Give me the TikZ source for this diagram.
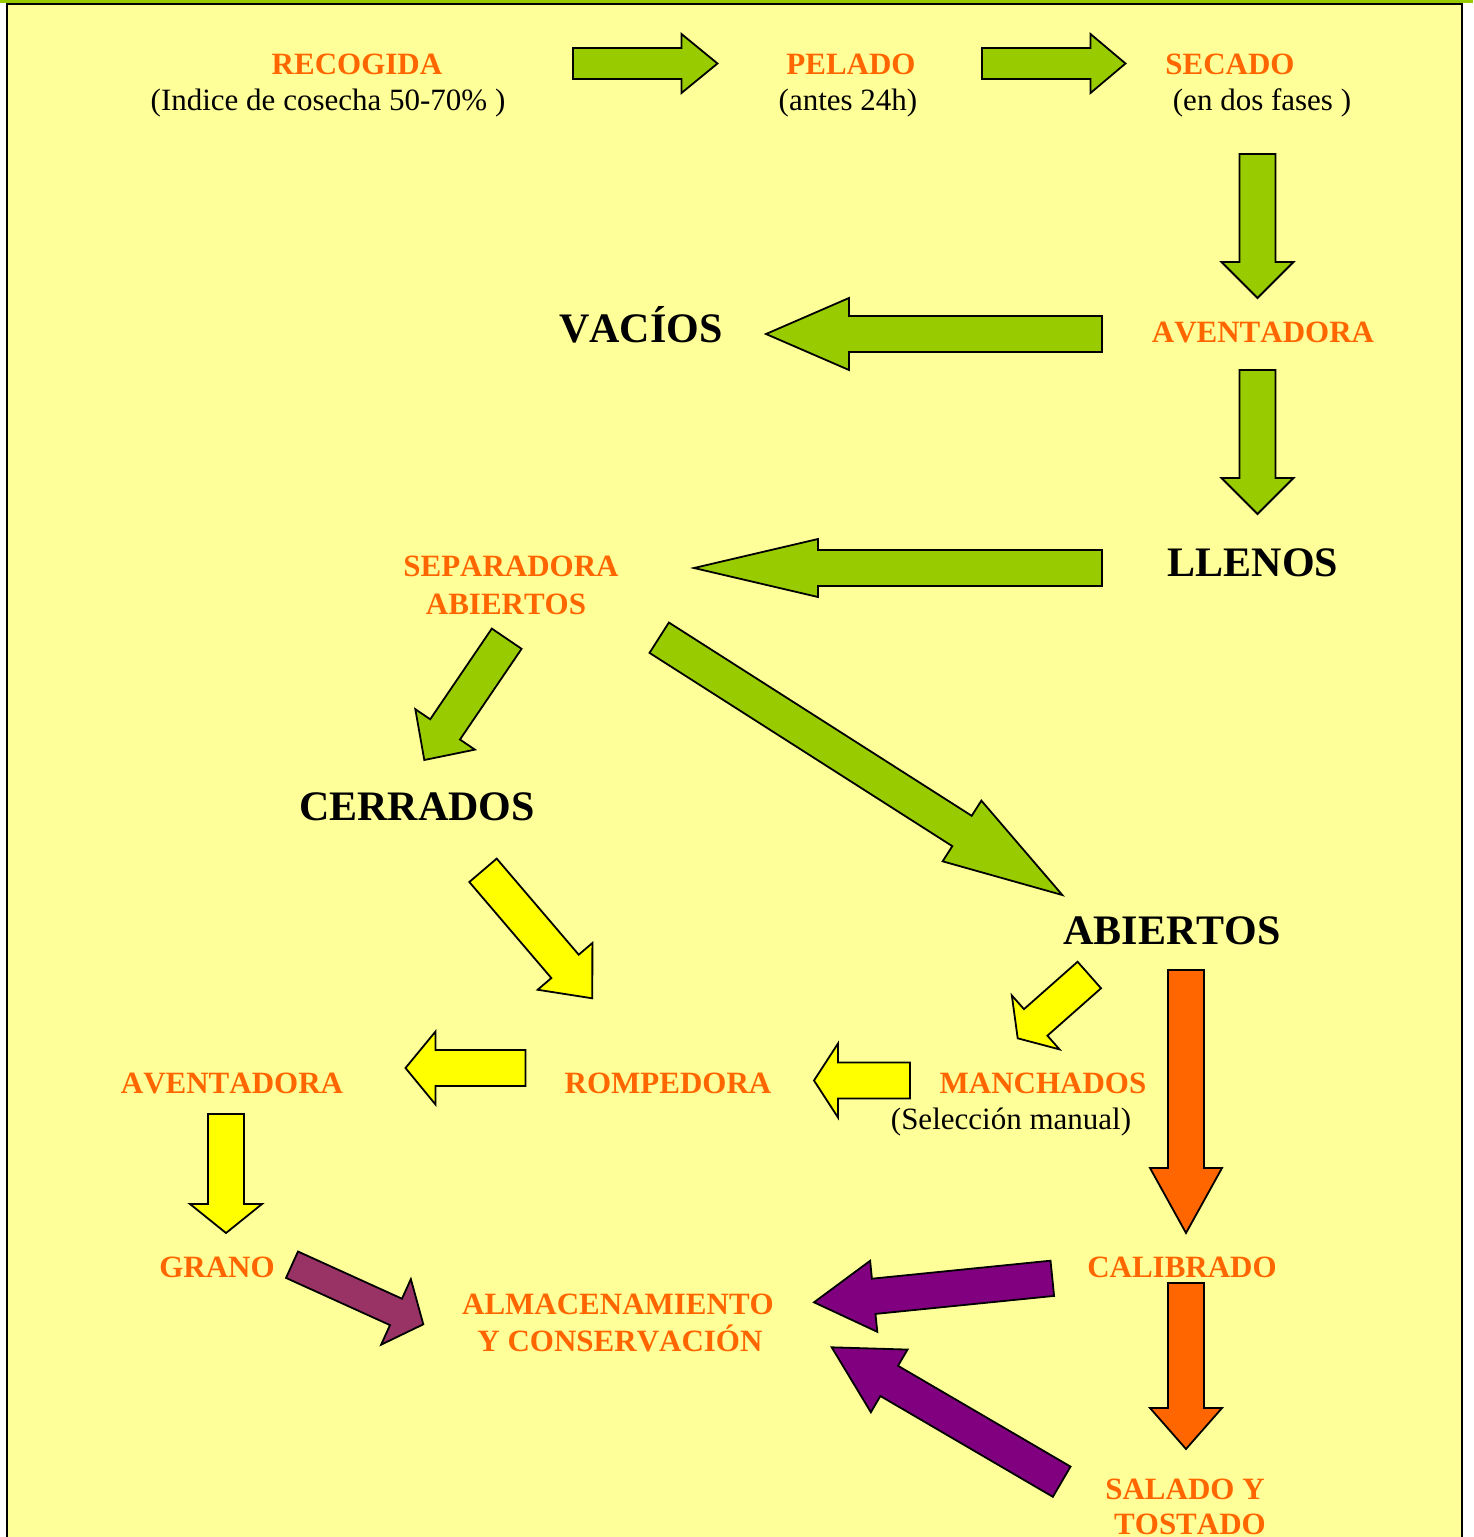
\documentclass[tikz,border=0pt]{standalone}
\usepackage{fontspec}
\setmainfont{Liberation Serif}[Kerning=Off]
\usetikzlibrary{calc}
\definecolor{bgyellow}{HTML}{FFFF99}
\definecolor{leafgreen}{HTML}{99CC00}
\definecolor{brightyellow}{HTML}{FFFF00}
\definecolor{orangetxt}{HTML}{FF6600}
\definecolor{darkpurple}{HTML}{800080}
\definecolor{plum}{HTML}{993366}
\tikzset{
  bkstyle/.style={draw=black,line width=1.8pt,line join=miter},
  orangelbl/.style={text=orangetxt,font=\fontsize{31}{37}\selectfont\bfseries,anchor=base,inner sep=0pt},
  blacklbl/.style={text=black,font=\fontsize{42}{50}\selectfont\bfseries,anchor=base,inner sep=0pt},
  sublbl/.style={text=black,font=\fontsize{31}{37}\selectfont,anchor=base,inner sep=0pt}
}
\newcommand\bkarrow[6]{%
  \coordinate (bkH) at ($(#3)!#6!(#2)$);
  \draw[bkstyle,fill=#1] ($(#2)!#4!90:(#3)$) -- ($(bkH)!#4!-90:(#2)$) -- ($(bkH)!#5!-90:(#2)$) -- (#3) -- ($(bkH)!#5!90:(#2)$) -- ($(bkH)!#4!90:(#2)$) -- ($(#2)!#4!-90:(#3)$) -- cycle;}
\begin{document}
\begin{tikzpicture}[x=1pt,y=-1pt]
\useasboundingbox (0,0) rectangle (1473,1537);
\fill[white] (0,0) rectangle (1473,1537);
\fill[bgyellow] (7,4) rectangle (1462,1537);
\fill[leafgreen] (0,0) rectangle (1473,2.5);
\draw[line width=2pt] (7,1540) -- (7,3.5) -- (1462,3.5) -- (1462,1540);

% labels
\node[orangelbl] (recogida) at (357,74) {RECOGIDA};
\node[sublbl] (recogidasub) at (328,110) {(Indice de cosecha 50-70\% )};
\node[orangelbl] (pelado) at (851,74) {PELADO};
\node[sublbl] (peladosub) at (848,110) {(antes 24h)};
\node[orangelbl] (secado) at (1230,74) {SECADO};
\node[sublbl] (secadosub) at (1262,110) {(en dos fases )};
\node[orangelbl] (avent1) at (1263,342) {AVENTADORA};
\node[blacklbl] (vacios) at (641,342) {VACÍOS};
\node[blacklbl] (llenos) at (1253,576) {LLENOS};
\node[orangelbl] (separadora) at (511,576) {SEPARADORA};
\node[orangelbl] (separadora2) at (506,614) {ABIERTOS};
\node[blacklbl] (cerrados) at (417,820) {CERRADOS};
\node[blacklbl] (abiertos) at (1172,944) {ABIERTOS};
\node[orangelbl] (avent2) at (232,1093) {AVENTADORA};
\node[orangelbl] (rompedora) at (668,1093) {ROMPEDORA};
\node[orangelbl] (manchados) at (1043,1093) {MANCHADOS};
\node[sublbl] (manchadossub) at (1011,1129) {(Selección manual)};
\node[orangelbl] (grano) at (217,1277) {GRANO};
\node[orangelbl] (almacen) at (618,1314) {ALMACENAMIENTO};
\node[orangelbl] (almacen2) at (620,1351) {Y CONSERVACIÓN};
\node[orangelbl] (calibrado) at (1182,1277) {CALIBRADO};
\node[orangelbl] (salado) at (1185,1499) {SALADO Y};
\node[orangelbl] (salado2) at (1190,1534) {TOSTADO};

% arrow end points
\coordinate (a1s) at (573,63.5);   \coordinate (a1e) at (717.5,63.5);
\coordinate (a2s) at (982,63.5);   \coordinate (a2e) at (1125.5,63.5);
\coordinate (a3s) at (1257.5,154); \coordinate (a3e) at (1257.5,298);
\coordinate (a4s) at (1257.5,370); \coordinate (a4e) at (1257.5,514);
\coordinate (a5s) at (1102,334);   \coordinate (a5e) at (766,334);
\coordinate (a6s) at (1102,568);   \coordinate (a6e) at (694,568);
\coordinate (a7s) at (506.7,638.7); \coordinate (a7e) at (424.3,760);
\coordinate (a8s) at (659.2,637.7); \coordinate (a8e) at (1062.3,895);
\coordinate (a9s) at (483,870.3);  \coordinate (a9e) at (592.3,998.3);
\coordinate (a10s) at (1089.3,975); \coordinate (a10e) at (1017.7,1038.3);
\coordinate (a11s) at (1186,970);  \coordinate (a11e) at (1186,1233);
\coordinate (a12s) at (1186,1283); \coordinate (a12e) at (1186,1449);
\coordinate (a13s) at (910,1080.5); \coordinate (a13e) at (814,1080.5);
\coordinate (a14s) at (525.5,1068); \coordinate (a14e) at (405.5,1068);
\coordinate (a15s) at (226,1114);  \coordinate (a15e) at (226,1233);
\coordinate (a16s) at (292,1264.7); \coordinate (a16e) at (423.3,1324.3);
\coordinate (a17s) at (1052.3,1278.3); \coordinate (a17e) at (814,1302.3);
\coordinate (a18s) at (1061.7,1481.7); \coordinate (a18e) at (831.7,1347.3);

% arrows
\bkarrow{leafgreen}{a1s}{a1e}{15.5pt}{29.5pt}{36pt}
\bkarrow{leafgreen}{a2s}{a2e}{15.5pt}{29.5pt}{35pt}
\bkarrow{leafgreen}{a3s}{a3e}{18pt}{36pt}{36pt}
\bkarrow{leafgreen}{a4s}{a4e}{18pt}{36pt}{36pt}
\bkarrow{leafgreen}{a5s}{a5e}{18pt}{36pt}{83pt}
\bkarrow{leafgreen}{a6s}{a6e}{18pt}{29pt}{124pt}
\bkarrow{leafgreen}{a7s}{a7e}{18pt}{36pt}{37pt}
\bkarrow{leafgreen}{a8s}{a8e}{18pt}{36pt}{119pt}
\bkarrow{brightyellow}{a9s}{a9e}{18pt}{36pt}{42pt}
\bkarrow{brightyellow}{a10s}{a10e}{17.7pt}{36pt}{24pt}
\bkarrow{orangetxt}{a11s}{a11e}{18pt}{36pt}{65pt}
\bkarrow{orangetxt}{a12s}{a12e}{18pt}{36pt}{41pt}
\bkarrow{brightyellow}{a13s}{a13e}{18pt}{37pt}{24pt}
\bkarrow{brightyellow}{a14s}{a14e}{18pt}{36.5pt}{30pt}
\bkarrow{brightyellow}{a15s}{a15e}{18pt}{36pt}{29pt}
\bkarrow{plum}{a16s}{a16e}{14.5pt}{36pt}{30pt}
\bkarrow{darkpurple}{a17s}{a17e}{17.7pt}{35.7pt}{60pt}
\bkarrow{darkpurple}{a18s}{a18e}{17.5pt}{36.3pt}{66.6pt}
\end{tikzpicture}
\end{document}
